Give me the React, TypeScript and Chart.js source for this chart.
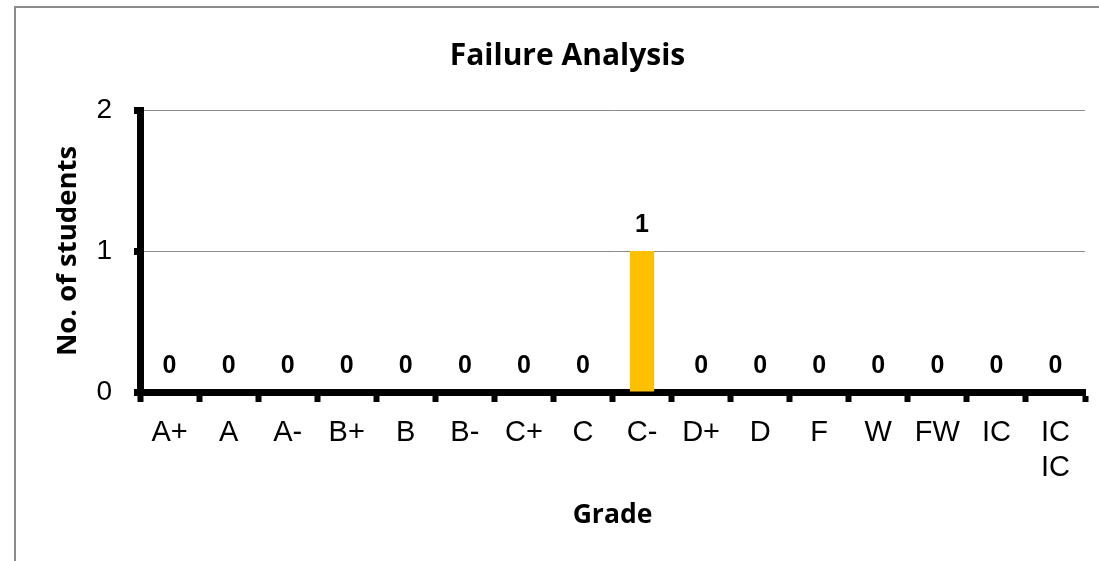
import React, { useEffect, useRef } from "react";
import { Chart, registerables } from "chart.js";

Chart.register(...registerables);

const grades: (string | string[])[] = ["A+", "A", "A-", "B+", "B", "B-", "C+", "C", "C-", "D+", "D", "F", "W", "FW", "IC", ["IC", "IC"]];
const students: number[] = [0, 0, 0, 0, 0, 0, 0, 0, 1, 0, 0, 0, 0, 0, 0, 0];
const yTicks: number[] = [0, 1, 2];

const chartTitle = "Failure Analysis";
const xTitle = "Grade";
const yTitle = "No. of students";

const borderPlugin = {
  id: "outerBorder",
  beforeDraw(chart: any) {
    const ctx = chart.ctx;
    ctx.save();
    ctx.strokeStyle = "#8c8c8c";
    ctx.lineWidth = 2;
    ctx.strokeRect(15, 7, 3000, 3000);
    ctx.restore();
  },
};

const labelPlugin = {
  id: "valueLabels",
  afterDatasetsDraw(chart: any) {
    const ctx = chart.ctx;
    const meta = chart.getDatasetMeta(0);
    ctx.save();
    ctx.font = "bold 25px 'Liberation Sans', Arial, sans-serif";
    ctx.fillStyle = "#000";
    ctx.textAlign = "center";
    ctx.textBaseline = "middle";
    meta.data.forEach((el: any, i: number) => {
      const v = chart.data.datasets[0].data[i];
      ctx.fillText(String(v), el.x, el.y - 26);
    });
    ctx.restore();
  },
};

export default function App() {
  const ref = useRef<HTMLCanvasElement>(null);
  useEffect(() => {
    if (!ref.current) return;
    const chart = new Chart(ref.current, {
      type: "bar",
      data: {
        labels: grades as any,
        datasets: [
          {
            data: students,
            backgroundColor: "#FFC000",
            barPercentage: 0.41,
            categoryPercentage: 1,
          },
        ],
      },
      options: {
        animation: false,
        responsive: false,
        maintainAspectRatio: false,
        layout: { padding: { left: 50, right: 14, top: 38, bottom: 0 } },
        plugins: {
          legend: { display: false },
          tooltip: { enabled: false },
          title: {
            display: true,
            text: chartTitle,
            color: "#000",
            font: { family: "'Open Sans', sans-serif", size: 30, weight: "bold", lineHeight: 1.2 },
            padding: { top: 0, bottom: 36 },
          },
        },
        scales: {
          x: {
            afterFit(scale: any) {
              scale.height = 169;
            },
            grid: {
              display: true,
              drawOnChartArea: false,
              drawTicks: true,
              tickLength: 10,
              tickWidth: 6,
              tickColor: "#000",
              offset: true,
            },
            border: { display: true, color: "#000", width: 7 },
            ticks: {
              color: "#000",
              font: { family: "'Liberation Sans', Arial, sans-serif", size: 29, lineHeight: 1.2 },
              padding: 14,
              maxRotation: 0,
              autoSkip: false,
            },
            title: {
              display: true,
              text: xTitle,
              color: "#000",
              font: { family: "'Open Sans', sans-serif", size: 26.5, weight: "bold", lineHeight: 1.2 },
              padding: { top: 0, bottom: 30 },
            },
          },
          y: {
            min: 0,
            max: 2,
            afterFit(scale: any) {
              scale.width = 90;
            },
            afterBuildTicks(scale: any) {
              scale.ticks = yTicks.map((v) => ({ value: v }));
            },
            grid: {
              color: "#8c8c8c",
              lineWidth: 1,
              drawTicks: true,
              tickLength: 6,
              tickWidth: 7,
              tickColor: "#000",
            },
            border: { display: true, color: "#000", width: 7 },
            ticks: {
              color: "#000",
              font: { family: "'Liberation Sans', Arial, sans-serif", size: 28 },
              padding: 22,
            },
            title: {
              display: true,
              text: yTitle,
              color: "#000",
              font: { family: "'Open Sans', sans-serif", size: 27.5, weight: "bold", lineHeight: 1.2 },
              padding: { top: 1.5, bottom: 0 },
            },
          },
        },
      } as any,
      plugins: [borderPlugin, labelPlugin],
    });
    return () => chart.destroy();
  }, []);
  return (
    <div style={{ position: "absolute", left: 0, top: 0, width: 1099, height: 561, background: "#fff" }}>
      <canvas ref={ref} width={1099} height={561} style={{ display: "block" }} />
    </div>
  );
}
